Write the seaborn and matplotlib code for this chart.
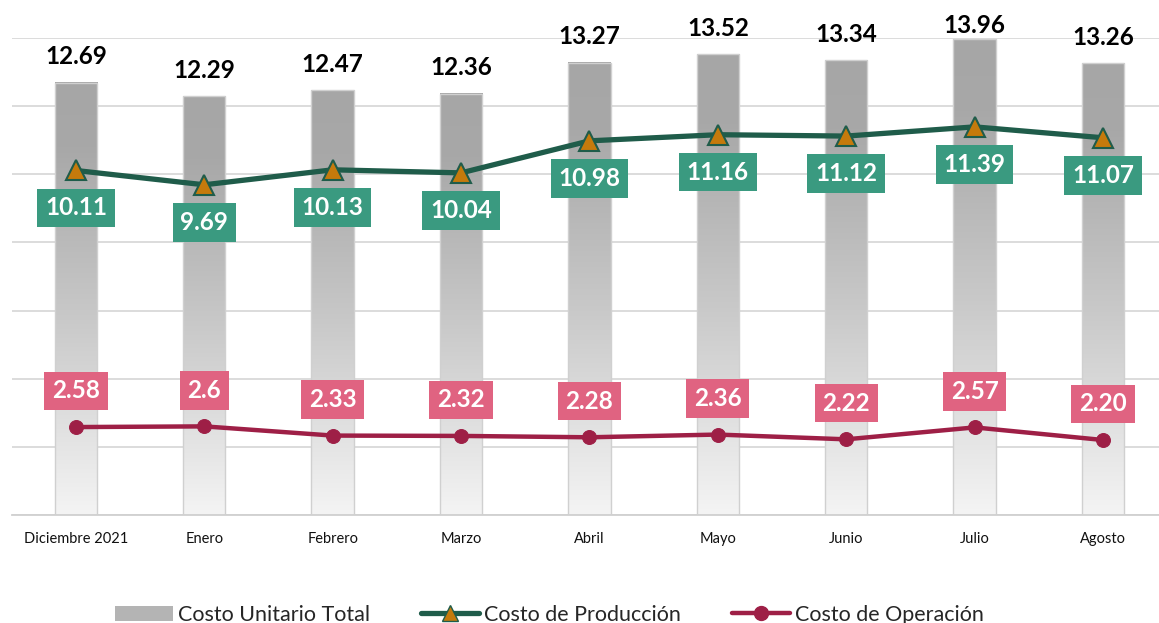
import numpy as np
import pandas as pd
import seaborn as sns
from matplotlib import pyplot as plt
from matplotlib.colors import LinearSegmentedColormap
from matplotlib.lines import Line2D
from matplotlib.patches import Patch

meses = ["Diciembre 2021", "Enero", "Febrero", "Marzo", "Abril",
         "Mayo", "Junio", "Julio", "Agosto"]
costo_total = [12.69, 12.29, 12.47, 12.36, 13.27, 13.52, 13.34, 13.96, 13.26]
costo_produccion = [10.11, 9.69, 10.13, 10.04, 10.98, 11.16, 11.12, 11.39, 11.07]
costo_operacion = [2.58, 2.6, 2.33, 2.32, 2.28, 2.36, 2.22, 2.57, 2.20]
etiquetas_operacion = ["2.58", "2.6", "2.33", "2.32", "2.28", "2.36", "2.22", "2.57", "2.20"]

df = pd.DataFrame({
    "mes": meses,
    "total": costo_total,
    "produccion": costo_produccion,
    "operacion": costo_operacion,
})

sns.set_style("white")
plt.rcParams["font.family"] = ["Lato", "DejaVu Sans"]

verde_linea = "#1f5c4a"
verde_caja = "#3a9a80"
naranja = "#c57a0c"
rosa_linea = "#9e1f46"
rosa_caja = "#e06381"

fig = plt.figure(figsize=(11.59, 6.23), dpi=100)
ax = fig.add_axes([0.0101, 0.1734, 0.997, 0.7657])

# bars (gradient applied afterwards)
sns.barplot(data=df, x="mes", y="total", width=0.33, color="#a6a6a6",
            ax=ax, zorder=2)

grad = LinearSegmentedColormap.from_list(
    "barra", [(0, "#f4f4f4"), (0.45, "#c9c9c9"), (0.85, "#a8a8a8"), (1, "#a6a6a6")])
for bar in ax.patches:
    x0, w, h = bar.get_x(), bar.get_width(), bar.get_height()
    img = np.linspace(0, 1, 256).reshape(-1, 1)
    ax.imshow(img, extent=[x0, x0 + w, 0, h], origin="lower", cmap=grad,
              aspect="auto", zorder=2)
    bar.set_facecolor("none")
    bar.set_edgecolor("#d0d0d0")
    bar.set_linewidth(1.0)
    bar.set_zorder(3)
    # label sits above the bar, but is held down near the top of the chart
    ax.text(x0 + w / 2, min(h + 0.76, 14.37), f"{h:.2f}", ha="center",
            va="center", fontsize=17.5, fontweight="bold", color="black")

x = np.arange(len(meses))
sns.lineplot(x=x, y=costo_produccion, ax=ax, color=verde_linea, linewidth=3.8,
             marker="^", markersize=14, markerfacecolor=naranja,
             markeredgecolor=verde_linea, markeredgewidth=1.5, zorder=4)
sns.lineplot(x=x, y=costo_operacion, ax=ax, color=rosa_linea, linewidth=3.2,
             marker="o", markersize=10, markerfacecolor=rosa_linea,
             markeredgecolor=rosa_linea, zorder=4)

for xi, v in zip(x, costo_produccion):
    ax.annotate(f"{v:.2f}", (xi, v), xytext=(0, -27), textcoords="offset points",
                ha="center", va="center", fontsize=17.5, fontweight="bold",
                color="white", zorder=5,
                bbox=dict(boxstyle="square,pad=0.32", fc=verde_caja, ec="none"))

for xi, v, t in zip(x, costo_operacion, etiquetas_operacion):
    ax.annotate(t, (xi, v), xytext=(0, 26), textcoords="offset points",
                ha="center", va="center", fontsize=17.5, fontweight="bold",
                color="white", zorder=5,
                bbox=dict(boxstyle="square,pad=0.32", fc=rosa_caja, ec="none"))

ax.set_xlim(-0.5, len(meses) - 0.5)
ax.set_ylim(0, 14)
ax.set_yticks(np.arange(0, 15, 2))
ax.yaxis.grid(True, color="#d9d9d9", linewidth=1.3, zorder=0)
ax.set_axisbelow(True)
ax.set_yticklabels([])
ax.tick_params(axis="y", length=0)

ax.set_xticks(x)
ax.set_xticklabels(meses, fontsize=10.5, color="#111111")
ax.set_xticks(np.arange(-0.5, len(meses), 1), minor=True)
ax.tick_params(axis="x", which="major", length=0, pad=12)
ax.tick_params(axis="x", which="minor", length=5, color="#d0d0d0", width=1.3)
ax.set_xlabel("")
ax.set_ylabel("")

for s in ["top", "right", "left"]:
    ax.spines[s].set_visible(False)
ax.spines["bottom"].set_color("#d0d0d0")
ax.spines["bottom"].set_linewidth(1.3)

handles = [
    Patch(facecolor="#b4b4b4", edgecolor="none"),
    Line2D([], [], color=verde_linea, linewidth=3.8, marker="^", markersize=12,
           markerfacecolor=naranja, markeredgecolor=verde_linea),
    Line2D([], [], color=rosa_linea, linewidth=3.2, marker="o", markersize=10,
           markerfacecolor=rosa_linea, markeredgecolor=rosa_linea),
]
fig.legend(handles, ["Costo Unitario Total", "Costo de Producción", "Costo de Operación"],
           loc="center", bbox_to_anchor=(0.474, 0.013), ncol=3, frameon=False,
           fontsize=15.5, handlelength=2.7, handletextpad=0.2, columnspacing=2.4)

fig.savefig("out.png", dpi=100)
